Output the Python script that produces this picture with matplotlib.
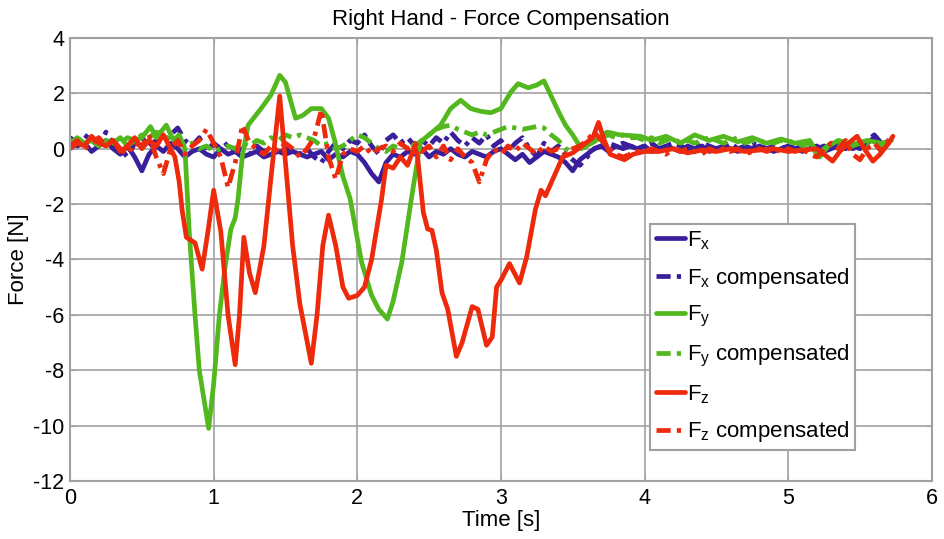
import numpy as np
import matplotlib
matplotlib.use("Agg")
import matplotlib.pyplot as plt

plt.rcParams['font.family'] = ['Liberation Sans', 'DejaVu Sans']
plt.rcParams['mathtext.fontset'] = 'custom'
plt.rcParams['mathtext.rm'] = 'Liberation Sans'
plt.rcParams['mathtext.it'] = 'Liberation Sans'
plt.rcParams['axes.unicode_minus'] = False

title = "Right Hand - Force Compensation"
xlabel = "Time [s]"
ylabel = "Force [N]"
labels = ["F$_\\mathrm{x}$", "F$_\\mathrm{x}$ compensated",
          "F$_\\mathrm{y}$", "F$_\\mathrm{y}$ compensated",
          "F$_\\mathrm{z}$", "F$_\\mathrm{z}$ compensated"]
xticks = [0, 1, 2, 3, 4, 5, 6]
yticks = [4, 2, 0, -2, -4, -6, -8, -10, -12]

# sampling interval of the regularly sampled traces
dt = 0.05

fx = [0.3, 0.1, 0.2, -0.1, 0.1, 0.3, 0.0, -0.2, 0.1, -0.3,
      -0.8, -0.2, 0.1, -0.1, 0.2, 0.0, -0.3, -0.1, 0.0, -0.2,
      -0.3, 0.0, -0.2, -0.1, -0.3, -0.2, -0.1, -0.3, -0.2, -0.1,
      -0.2, -0.1, -0.2, -0.3, -0.2, -0.1, -0.4, -0.2, -0.3, -0.1,
      -0.2, -0.5, -0.9, -1.2, -0.5, -0.2, -0.3, -0.1, -0.2, 0.0,
      -0.3, -0.1, -0.2, 0.0, -0.2, -0.3, -0.1, -0.2, -0.3, -0.1,
      0.0, -0.2, -0.4, -0.2, -0.5, -0.3, -0.1, -0.2, -0.3, -0.5,
      -0.8, -0.4, -0.2, 0.0, 0.1, -0.1, 0.1, 0.0, 0.1, 0.0,
      0.1, -0.1, 0.0, 0.1, 0.0, -0.1, 0.1, 0.0, 0.1, -0.1,
      0.0, 0.1, 0.0, -0.1, 0.1, 0.0, 0.1, 0.0, -0.1, 0.0,
      0.1, 0.0, -0.1, 0.0, 0.1, -0.1, 0.0, 0.1, 0.0, 0.1,
      0.0, 0.2, 0.4, 0.1, 0.2]

fx_comp = [0.4, 0.2, 0.5, 0.3, 0.1, 0.6, 0.2, 0.0, -0.3, 0.2,
           0.4, 0.1, 0.3, 0.2, 0.5, 0.75, 0.3, 0.1, 0.4, -0.1,
           0.2, 0.0, 0.2, -0.1, 0.0, -0.2, 0.1, -0.1, 0.0, -0.2,
           0.0, -0.1, -0.2, 0.0, -0.3, -0.5, -0.1, 0.2, 0.0, 0.3,
           0.2, 0.5, 0.1, -0.2, 0.3, 0.5, 0.2, 0.4, 0.1, 0.3,
           0.1, 0.4, 0.2, 0.6, 0.3, 0.1, 0.4, 0.2, 0.5, 0.1,
           0.3, -0.1, 0.2, 0.4, 0.0, -0.3, 0.2, -0.1, 0.1, -0.2,
           -0.4, -0.6, -0.3, 0.0, 0.1, 0.2, 0.1, 0.2, 0.1, 0.0,
           0.1, 0.2, 0.0, 0.1, 0.2, 0.1, 0.0, 0.1, 0.2, 0.1,
           0.0, 0.1, 0.2, 0.0, 0.1, 0.2, 0.1, 0.0, 0.1, 0.0,
           0.1, 0.0, 0.1, 0.2, 0.0, 0.1, 0.0, 0.2, 0.1, 0.0,
           0.1, 0.3, 0.5, 0.2, 0.3]

t_fy = [0.00, 0.05, 0.10, 0.15, 0.20, 0.25, 0.30, 0.35, 0.40, 0.45, 0.50,
        0.56, 0.60, 0.67, 0.72, 0.76, 0.80, 0.83, 0.87, 0.90, 0.965,
        1.00, 1.04, 1.08, 1.12, 1.15, 1.17, 1.20, 1.24,
        1.33, 1.40, 1.46, 1.50, 1.57, 1.62, 1.68, 1.75, 1.80, 1.84,
        1.90, 1.95, 2.03, 2.10, 2.15, 2.21, 2.25, 2.31, 2.38, 2.44,
        2.50, 2.58, 2.65, 2.72, 2.79, 2.86, 2.93, 3.00,
        3.07, 3.12, 3.19, 3.25, 3.30, 3.35, 3.40, 3.45, 3.50, 3.56,
        3.65, 3.74, 3.83, 3.97,
        4.05, 4.15, 4.25, 4.35, 4.45, 4.55, 4.65, 4.75, 4.85, 4.95,
        5.05, 5.15, 5.22, 5.28, 5.35, 5.45, 5.55, 5.65, 5.72]
fy = [0.2, 0.4, 0.2, 0.3, 0.1, 0.3, 0.2, 0.4, 0.1, 0.3, 0.4,
      0.8, 0.4, 0.85, 0.3, 0.5, 0.0, -3.0, -6.0, -8.0, -10.1,
      -8.5, -6.0, -4.25, -2.9, -2.5, -1.8, -0.25, 0.85,
      1.45, 1.95, 2.65, 2.4, 1.1, 1.2, 1.45, 1.45, 1.1, 0.35,
      -1.0, -1.8, -4.1, -5.3, -5.8, -6.15, -5.5, -4.1, -1.7, 0.25,
      0.5, 0.85, 1.45, 1.75, 1.45, 1.35, 1.3, 1.45,
      2.05, 2.35, 2.2, 2.3, 2.45, 1.9, 1.35, 0.85, 0.5, 0.0,
      0.25, 0.6, 0.5, 0.45,
      0.3, 0.45, 0.2, 0.5, 0.3, 0.45, 0.25, 0.4, 0.2, 0.35,
      0.2, 0.3, -0.3, 0.1, 0.3, 0.15, 0.3, 0.2, 0.3]

fy_comp = [0.3, 0.2, 0.4, 0.2, 0.3, 0.1, 0.3, 0.2, 0.4, 0.3,
           0.5, 0.4, 0.6, 0.5, 0.3, 0.4, 0.1, 0.2, 0.0, 0.1,
           -0.1, 0.0, 0.1, 0.0, 0.2, 0.1, 0.3, 0.2, 0.4, 0.3,
           0.5, 0.4, 0.5, 0.4, 0.3, 0.1, 0.2, 0.0, 0.1, 0.3,
           0.5, 0.4, 0.2, 0.0, -0.1, 0.1, 0.0, 0.2, 0.1, 0.3,
           0.5, 0.7, 0.8, 0.85, 0.7, 0.6, 0.5, 0.6, 0.5, 0.6,
           0.7, 0.8, 0.75, 0.7, 0.75, 0.8, 0.75, 0.5, 0.3, 0.0,
           -0.1, 0.1, 0.2, 0.3, 0.4, 0.5, 0.4, 0.5, 0.4, 0.4,
           0.3, 0.4, 0.2, 0.3, 0.4, 0.2, 0.3, 0.2, 0.3, 0.4,
           0.3, 0.2, 0.3, 0.4, 0.2, 0.3, 0.2, 0.3, 0.2, 0.3,
           0.2, 0.3, 0.1, 0.2, -0.2, 0.0, 0.2, 0.1, 0.2, 0.1,
           0.2, 0.1, 0.2, 0.1, 0.2]

t_fz = [0.00, 0.05, 0.10, 0.15, 0.20, 0.25, 0.30, 0.35, 0.40, 0.45, 0.50,
        0.55, 0.60, 0.65, 0.70,
        0.73, 0.76, 0.78, 0.81, 0.87, 0.92, 0.96,
        1.00, 1.05, 1.10, 1.15, 1.18, 1.21, 1.25, 1.29,
        1.35, 1.40, 1.46, 1.50, 1.55, 1.60, 1.68, 1.72, 1.76, 1.80,
        1.85, 1.90, 1.94, 2.00, 2.05, 2.10, 2.17, 2.20, 2.25, 2.30,
        2.35, 2.40, 2.42, 2.46, 2.49, 2.52, 2.55, 2.59, 2.63, 2.69,
        2.73, 2.80, 2.84, 2.90, 2.94, 2.97, 3.00, 3.06, 3.13, 3.18,
        3.24, 3.28, 3.31, 3.37, 3.43, 3.50, 3.59, 3.64, 3.68, 3.72,
        3.76, 3.81, 3.86, 3.92, 4.00, 4.10, 4.20, 4.30, 4.40, 4.50,
        4.60, 4.70, 4.80, 4.90, 5.00, 5.10, 5.20, 5.25, 5.31, 5.36,
        5.42, 5.48, 5.53, 5.59, 5.64, 5.70, 5.73]
fz = [0.0, 0.2, 0.1, 0.45, 0.2, 0.1, 0.3, -0.1, 0.1, 0.4, 0.0,
      0.3, 0.1, 0.5, 0.0,
      -0.3, -1.2, -2.2, -3.2, -3.4, -4.35, -3.0,
      -1.5, -3.0, -6.0, -7.8, -6.0, -3.2, -4.5, -5.2,
      -3.5, -1.0, 1.9, -0.5, -3.5, -5.6, -7.75, -6.0, -3.5, -2.4,
      -3.5, -5.0, -5.4, -5.3, -5.0, -4.0, -1.8, -0.6, -0.7, -0.3,
      -0.6, 0.1, -0.3, -2.3, -2.9, -2.95, -3.65, -5.2, -5.8, -7.5,
      -7.0, -5.7, -5.8, -7.1, -6.8, -5.0, -4.75, -4.15, -4.85, -3.9,
      -2.2, -1.5, -1.7, -1.0, -0.3, -0.15, 0.2, 0.4, 0.95, 0.3,
      -0.2, -0.3, -0.4, -0.2, -0.1, -0.1, 0.0, -0.15, -0.05, -0.1,
      0.0, -0.1, -0.05, 0.0, -0.1, -0.05, 0.0, -0.2, -0.45, -0.1,
      0.2, 0.45, 0.0, -0.45, -0.2, 0.2, 0.45]

fz_comp = [0.1, 0.3, 0.0, 0.2, 0.4, 0.1, 0.3, 0.0, -0.2, 0.2,
           0.1, 0.5, -0.3, -0.9, 0.0, 0.3, -0.2, 0.1, 0.3, 0.7,
           0.2, -0.3, -1.4, -0.5, 0.85, 0.2, 0.0, -0.2, 0.1, -0.1,
           0.2, 0.0, -0.3, 0.0, 0.4, 1.4, -0.3, -1.1, -0.2, 0.0,
           -0.1, 0.1, -0.2, 0.0, 0.1, -0.1, 0.2, 0.0, 0.2, -0.1,
           0.1, -0.3, 0.1, -0.4, 0.0, -0.3, -0.5, -1.2, -0.4, 0.0,
           -0.2, 0.1, -0.1, 0.2, 0.0, -0.2, 0.1, -0.1, 0.0, -0.2,
           0.0, 0.1, 0.3, 0.6, 0.3, 0.0, -0.2, -0.3, -0.2, -0.1,
           -0.1, 0.0, -0.1, -0.2, 0.0, -0.1, 0.0, -0.1, -0.2, 0.0,
           -0.1, 0.0, -0.1, 0.0, -0.2, -0.1, 0.0, -0.1, 0.0, -0.1,
           0.0, -0.1, 0.0, -0.2, -0.3, 0.0, 0.2, 0.0, 0.3, -0.2,
           -0.4, 0.0, 0.2, -0.1, 0.3]

c_blue = '#3a1f9c'
c_green = '#52b81e'
c_red = '#ee2a0c'

fig = plt.figure(figsize=(9.44, 5.39), dpi=100)
ax = fig.add_axes([0.0742, 0.1076, 0.9128, 0.822])

lw = 3.4
dashdot = (0, (3.0, 1.3, 0.9, 1.3))


def tgrid(vals):
    return dt * np.arange(len(vals))


kw = dict(lw=lw, solid_joinstyle='round', solid_capstyle='round',
          dash_joinstyle='round', dash_capstyle='butt')
ax.plot(tgrid(fx), fx, color=c_blue, ls='-', label=labels[0], **kw)
ax.plot(tgrid(fx_comp), fx_comp, color=c_blue, ls=dashdot, label=labels[1], **kw)
ax.plot(t_fy, fy, color=c_green, ls='-', label=labels[2], **kw)
ax.plot(tgrid(fy_comp), fy_comp, color=c_green, ls=dashdot, label=labels[3], **kw)
ax.plot(t_fz, fz, color=c_red, ls='-', label=labels[4], **kw)
ax.plot(tgrid(fz_comp), fz_comp, color=c_red, ls=dashdot, label=labels[5], **kw)

ax.set_xlim(0, 6)
ax.set_ylim(-12, 4)
ax.set_xticks(xticks)
ax.set_yticks(yticks)
ax.grid(True, color='#a8a8a8', lw=1.3)
ax.set_axisbelow(True)
for s in ax.spines.values():
    s.set_color('#a0a0a0')
    s.set_linewidth(1.5)
ax.tick_params(axis='both', labelsize=15.5, length=4, color='#a0a0a0',
               direction='in', top=True, right=True)
ax.tick_params(axis='y', pad=4)
ax.tick_params(axis='x', pad=5)
ax.set_title(title, fontsize=16, pad=9)
ax.set_xlabel(xlabel, fontsize=16, labelpad=1)
ax.set_ylabel(ylabel, fontsize=16, labelpad=3)

leg = ax.legend(loc='lower right', bbox_to_anchor=(0.911, 0.07),
                fontsize=16, handlelength=1.3, handletextpad=0.1,
                labelspacing=0.62, borderpad=0.25, fancybox=False,
                framealpha=1, edgecolor='#a0a0a0', borderaxespad=0)
leg.get_frame().set_linewidth(1.5)

fig.savefig('out.png', dpi=100)
